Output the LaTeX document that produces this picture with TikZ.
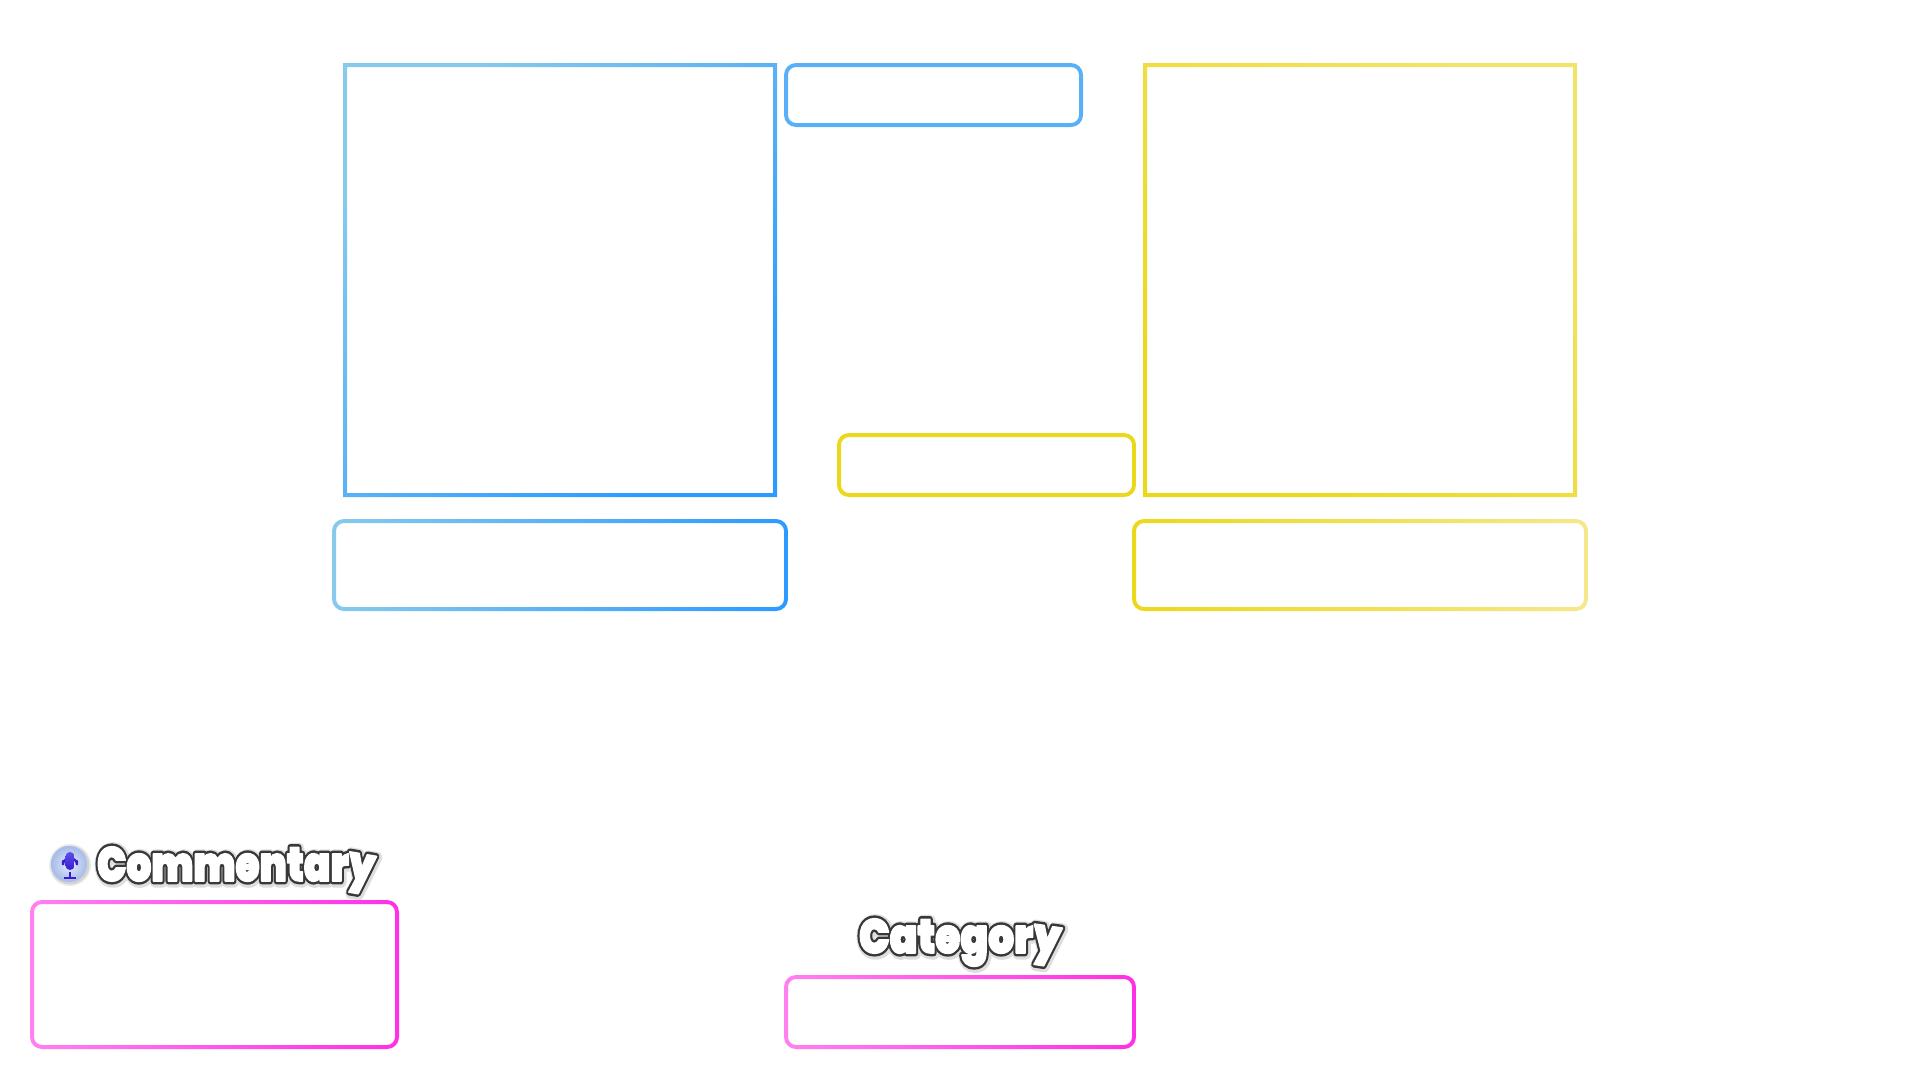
\documentclass[tikz,border=0pt]{standalone}
\usepackage{fontspec}
\usepackage{graphicx}
\newfontfamily\titlefont{Poppins Black}
\definecolor{skyL}{HTML}{87CAEC}
\definecolor{skyM}{HTML}{5AB0F6}
\definecolor{skyD}{HTML}{2C9AFF}
\definecolor{yelD}{HTML}{ECD81A}
\definecolor{yelL}{HTML}{F5E88C}
\definecolor{pinkL}{HTML}{FF80F0}
\definecolor{pinkD}{HTML}{FF30E6}
\definecolor{ballin}{HTML}{E4ECFB}
\definecolor{ballout}{HTML}{A6BBEA}
\definecolor{micdark}{HTML}{3A1CD0}
\definecolor{miclight}{HTML}{5A50E8}
% #1 stroke width, #2 stroke rgb, #3 fill rgb, #4 text
\newcommand{\strokedtext}[4]{\special{pdf:literal direct 1 j 2 Tr #1 w #2 RG #3 rg}#4\special{pdf:literal direct 0 Tr 0 j}}
% glow, dark outline and white letter faces, printed over one another in one label
\newcommand{\cartoon}[1]{%
  \rlap{\kern1pt\raisebox{-1pt}{\strokedtext{11}{0.87 0.87 0.87}{0.87 0.87 0.87}{#1}}}%
  \rlap{\strokedtext{6.6}{0.22 0.22 0.22}{0.22 0.22 0.22}{#1}}%
  \strokedtext{1.6}{1 1 1}{1 1 1}{#1}}
\newcommand{\gradbox}[7]{%
  \begin{scope}[even odd rule]
    \clip[#5] (#1,#2) rectangle (#3,#4)
      [#6] ([shift={(4,4)}]#1,#2) rectangle ([shift={(-4,-4)}]#3,#4);
    \shade[#7] (#1,#2) rectangle (#3,#4);
  \end{scope}}
\newcommand{\commword}{\scalebox{0.815}[1]{Commentar\hspace*{-4pt}\rotatebox[origin=c]{-8}{y}}}
\newcommand{\catword}{\scalebox{0.85}[1]{Categor\hspace*{-3pt}\rotatebox[origin=c]{-7}{y}}}
\tikzset{
  blueside/.style={left color=skyL,right color=skyD},
  bluediag/.style={left color=skyL,right color=skyD,shading angle=45},
  bluesolid/.style={left color=skyM,right color=skyM},
  yellowside/.style={left color=yelD,right color=yelL},
  yellowdiag/.style={left color=yelD,right color=yelL!70!yelD,shading angle=135},
  yellowsolid/.style={left color=yelD,right color=yelD},
  pinkside/.style={left color=pinkL,right color=pinkD},
  rr/.style={rounded corners=12pt},
  ri/.style={rounded corners=8pt},
  titlelabel/.style={inner sep=0pt,outer sep=0pt,anchor=base west,font=\titlefont\fontsize{48}{48}\selectfont,text=white}
}
\begin{document}
\begin{tikzpicture}[x=1pt,y=-1pt]
\useasboundingbox (0,0) rectangle (1920,1080);
\fill[white] (0,0) rectangle (1920,1080);
\gradbox{343}{63}{777}{497}{sharp corners}{sharp corners}{bluediag}
\gradbox{784}{63}{1083}{127}{rr}{ri}{bluesolid}
\gradbox{1143}{63}{1577}{497}{sharp corners}{sharp corners}{yellowdiag}
\gradbox{837}{433}{1136}{497}{rr}{ri}{yellowsolid}
\gradbox{332}{519}{788}{611}{rr}{ri}{blueside}
\gradbox{1132}{519}{1588}{611}{rr}{ri}{yellowside}
\gradbox{30}{900}{399}{1049}{rr}{ri}{pinkside}
\gradbox{784}{975}{1136}{1049}{rr}{ri}{pinkside}
% microphone badge
\fill[black,opacity=.08] (70,865) circle (21);
\fill[black,opacity=.10] (70,865) circle (19.5);
\shade[inner color=ballin,outer color=ballout] (69,864) circle (18);
\draw[line width=2.2pt,color=micdark,line cap=round] (63,861) -- (63,865) arc[start angle=180,end angle=360,radius=7] -- (77,861);
\draw[line width=2pt,color=micdark] (70,872) -- (70,877) (64,878) -- (76,878);
\shade[top color=miclight,bottom color=micdark,rounded corners=4.5pt] (65.5,852) rectangle (74.5,870);
% titles
\node[titlelabel] (commentary) at (97,881) {\cartoon{\commword}};
\node[titlelabel] (category) at (859,953) {\cartoon{\catword}};
\end{tikzpicture}
\end{document}
